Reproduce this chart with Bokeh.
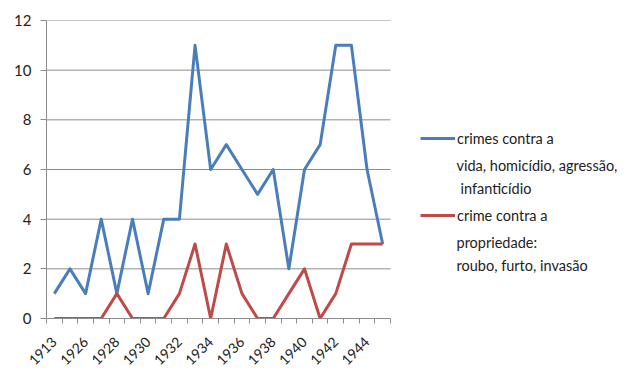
import math
from bokeh.plotting import figure
from bokeh.models import Range1d, FixedTicker, Legend, LegendItem, Label
from bokeh.embed import file_html
from bokeh.resources import INLINE

years = ["1913", "1925", "1926", "1927", "1928", "1929", "1930", "1931", "1932", "1933", "1934",
         "1935", "1936", "1937", "1938", "1939", "1940", "1941", "1942", "1943", "1944", "1945"]
crimes_vida = [1, 2, 1, 4, 1, 4, 1, 4, 4, 11, 6, 7, 6, 5, 6, 2, 6, 7, 11, 11, 6, 3]
crimes_propriedade = [0, 0, 0, 0, 1, 0, 0, 0, 1, 3, 0, 3, 1, 0, 0, 1, 2, 0, 1, 3, 3, 3]
label_vida = ["crimes contra a", "vida, homicídio, agressão,", " infanticídio"]
label_prop = ["crime contra a", "propriedade:", "roubo, furto, invasão"]
y_ticks = [0, 2, 4, 6, 8, 10, 12]

n = len(years)
xs = [i + 0.5 for i in range(n)]
FONT = "Lato"
GRID = "#8c8c8c"
TEXT = "#222222"

# plot area is 344 px wide inside a 582 px frame; the rest holds the legend
x_end = n * 582 / 344

p = figure(width=628, height=372, output_backend="svg", toolbar_location=None,
           x_range=Range1d(0, x_end), y_range=Range1d(0, 12),
           min_border_left=46, min_border_right=0, min_border_top=20, min_border_bottom=54)
p.outline_line_color = None
p.background_fill_color = "white"
p.border_fill_color = "white"

# horizontal gridlines limited to the category span
p.segment(x0=[0] * len(y_ticks), x1=[n] * len(y_ticks), y0=y_ticks, y1=y_ticks,
          line_color=GRID, line_width=1)

r1 = p.line(xs, crimes_vida, line_color="#4A7EBB", line_width=3, line_join="round")
r2 = p.line(xs, crimes_propriedade, line_color="#BE4B48", line_width=3, line_join="round")

# x axis: labels on every other category, tick marks at category boundaries
p.xaxis.bounds = (0, n)
p.xaxis.ticker = FixedTicker(ticks=[xs[i] for i in range(0, n, 2)],
                             minor_ticks=[float(i) for i in range(n + 1)])
p.xaxis.major_label_overrides = {xs[i]: years[i] for i in range(0, n, 2)}
p.xaxis.major_label_orientation = math.pi / 4
p.xaxis.major_tick_line_color = None
p.xaxis.major_tick_out = 0
p.xaxis.minor_tick_out = 5
p.xaxis.minor_tick_in = 0
p.xaxis.minor_tick_line_color = GRID
p.xaxis.axis_line_color = GRID
p.xaxis.major_label_text_font = FONT
p.xaxis.major_label_text_font_size = "14px"
p.xaxis.major_label_text_color = TEXT
p.xaxis.major_label_standoff = 16

p.yaxis.ticker = FixedTicker(ticks=y_ticks)
p.yaxis.axis_line_color = GRID
p.yaxis.major_tick_line_color = GRID
p.yaxis.major_tick_out = 6
p.yaxis.major_tick_in = 0
p.yaxis.minor_tick_line_color = None
p.yaxis.major_label_text_font = FONT
p.yaxis.major_label_text_font_size = "15px"
p.yaxis.major_label_text_color = TEXT
p.yaxis.major_label_standoff = 9

p.xgrid.grid_line_color = None
p.ygrid.grid_line_color = None

# legend: sample line + first text line, continuation lines as labels
legend = Legend(items=[LegendItem(label=label_vida[0], renderers=[r1]),
                       LegendItem(label=label_prop[0], renderers=[r2])],
                location=(374, 94))
legend.border_line_color = None
legend.background_fill_alpha = 0
legend.label_text_font = FONT
legend.label_text_font_size = "14.5px"
legend.label_text_color = TEXT
legend.glyph_width = 35
legend.glyph_height = 18
legend.label_height = 18
legend.label_standoff = 2
legend.spacing = 59
legend.padding = 0
legend.margin = 0
p.add_layout(legend, "center")

cont = [(label_vida[1], 410, 153), (label_vida[2], 414, 129.7),
        (label_prop[1], 410, 76.3), (label_prop[2], 410, 53)]
for txt, sx, sy in cont:
    p.add_layout(Label(x=sx, y=sy, x_units="screen", y_units="screen", text=txt,
                       text_font=FONT, text_font_size="14.5px", text_color=TEXT,
                       text_baseline="alphabetic", text_align="left"))

open("out.html", "w").write(file_html(p, INLINE))
